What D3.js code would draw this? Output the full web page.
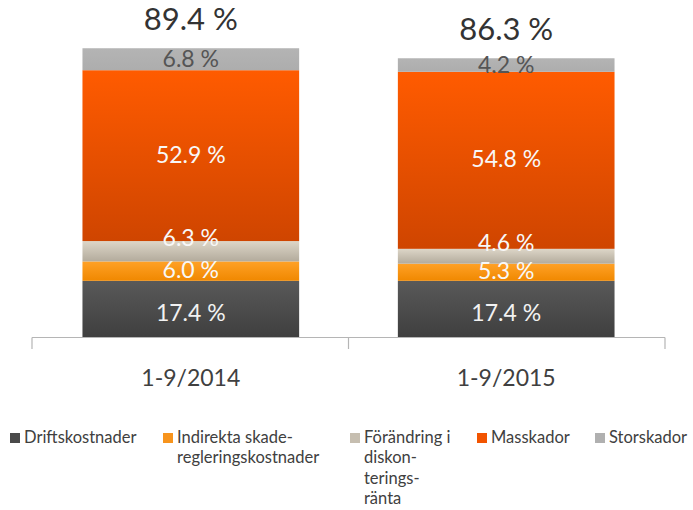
<!DOCTYPE html>
<meta charset="utf-8">
<script src="https://d3js.org/d3.v7.min.js"></script>
<style>
body{margin:0;background:#fff;}
text{font-family:Lato,"Open Sans",sans-serif;}
</style>
<div id="vis"></div>
<script>

// Data
var periods = ["1-9/2014", "1-9/2015"];
var seriesNames = ["Driftskostnader", "Indirekta skade-regleringskostnader", "Förändring i diskonteringsränta", "Masskador", "Storskador"];
var driftskostnader = [17.4, 17.4];
var indirekta = [6.0, 5.3];
var forandring = [6.3, 4.6];
var masskador = [52.9, 54.8];
var storskador = [6.8, 4.2];
var totals = [89.4, 86.3];
var legendLines = [["Driftskostnader"], ["Indirekta skade-", "regleringskostnader"], ["Förändring i", "diskon-", "terings-", "ränta"], ["Masskador"], ["Storskador"]];

var w = 693, h = 510;
var svg = d3.select("#vis").append("svg").attr("width", w).attr("height", h);

// colours: gradient top/bottom, legend swatch, label colour, label nudge
var styles = [
  {top: "#595959", bottom: "#3f3f3f", swatch: "#4a4a4a", label: "#f2f2f2", dy: 12},
  {top: "#ffa126", bottom: "#f08800", swatch: "#f7941d", label: "#f8f8f8", dy: 7},
  {top: "#ddd6c8", bottom: "#b3ab9c", swatch: "#c6beb0", label: "#f8f8f8", dy: -5},
  {top: "#ff5b00", bottom: "#cf4500", swatch: "#f25400", label: "#f8f8f8", dy: 7},
  {top: "#b4b4b4", bottom: "#adadad", swatch: "#b0b0b0", label: "#555555", dy: 8}
];

var defs = svg.append("defs");
styles.forEach(function(s, i) {
  var gr = defs.append("linearGradient").attr("id", "g" + i)
    .attr("x1", 0).attr("y1", 0).attr("x2", 0).attr("y2", 1);
  gr.append("stop").attr("offset", "0%").attr("stop-color", s.top);
  gr.append("stop").attr("offset", "100%").attr("stop-color", s.bottom);
});

var x = d3.scaleBand().domain(periods).range([32, 665])
  .paddingInner(0.313).paddingOuter(0.16);
var y = d3.scaleLinear().domain([0, 100]).range([337, 14]);

var table = periods.map(function(p, i) {
  return {period: p, s0: driftskostnader[i], s1: indirekta[i], s2: forandring[i], s3: masskador[i], s4: storskador[i]};
});
var stack = d3.stack().keys(["s0", "s1", "s2", "s3", "s4"]);
var layers = stack(table);

var g = svg.selectAll(".layer").data(layers).enter().append("g")
  .attr("class", "layer")
  .attr("fill", function(d, k) { return "url(#g" + k + ")"; });

g.selectAll("rect").data(function(d) { return d; }).enter().append("rect")
  .attr("x", function(d) { return x(d.data.period); })
  .attr("y", function(d) { return y(d[1]); })
  .attr("width", x.bandwidth())
  .attr("height", function(d) { return y(d[0]) - y(d[1]); });

// segment labels
layers.forEach(function(layer, k) {
  svg.selectAll(".lab" + k).data(layer).enter().append("text")
    .attr("x", function(d) { return x(d.data.period) + x.bandwidth() / 2; })
    .attr("y", function(d) { return (y(d[0]) + y(d[1])) / 2 + styles[k].dy; })
    .attr("text-anchor", "middle")
    .attr("font-size", 23)
    .attr("fill", styles[k].label)
    .text(function(d) { return (d[1] - d[0]).toFixed(1) + " %"; });
});

// totals
svg.selectAll(".total").data(totals).enter().append("text")
  .attr("x", function(d, i) { return x(periods[i]) + x.bandwidth() / 2; })
  .attr("y", function(d) { return y(d) - 18.5; })
  .attr("text-anchor", "middle")
  .attr("font-size", 31)
  .attr("fill", "#333")
  .text(function(d) { return d.toFixed(1) + " %"; });

// axis: ticks at band boundaries
var ax = svg.append("g");
ax.append("line").attr("x1", 32).attr("x2", 665).attr("y1", 337.5).attr("y2", 337.5)
  .attr("stroke", "#b5b5b5").attr("stroke-width", 1.2);
var bounds = [x.range()[0], (x(periods[0]) + x.bandwidth() + x(periods[1])) / 2, x.range()[1]];
ax.selectAll(".tick").data(bounds).enter().append("line")
  .attr("x1", function(d) { return d; }).attr("x2", function(d) { return d; })
  .attr("y1", 337.5).attr("y2", 349)
  .attr("stroke", "#b5b5b5").attr("stroke-width", 1.2);
ax.selectAll(".cat").data(periods).enter().append("text")
  .attr("x", function(d) { return x(d) + x.bandwidth() / 2; })
  .attr("y", 386)
  .attr("text-anchor", "middle")
  .attr("font-size", 23)
  .attr("fill", "#404040")
  .text(function(d) { return d; });

// legend
var legendX = [10, 163, 350, 477, 595];
var lg = svg.selectAll(".leg").data(seriesNames).enter().append("g")
  .attr("class", "leg")
  .attr("transform", function(d, i) { return "translate(" + legendX[i] + ",433)"; });
lg.append("rect").attr("width", 10).attr("height", 10)
  .attr("fill", function(d, i) { return styles[i].swatch; });
lg.append("text")
  .attr("y", 9.5)
  .attr("font-size", 16.5)
  .attr("fill", "#404040")
  .selectAll("tspan").data(function(d, i) { return legendLines[i]; }).enter().append("tspan")
  .attr("x", 14).attr("dy", function(d, j) { return j ? 20.5 : 0; })
  .text(function(d) { return d; });

</script>
